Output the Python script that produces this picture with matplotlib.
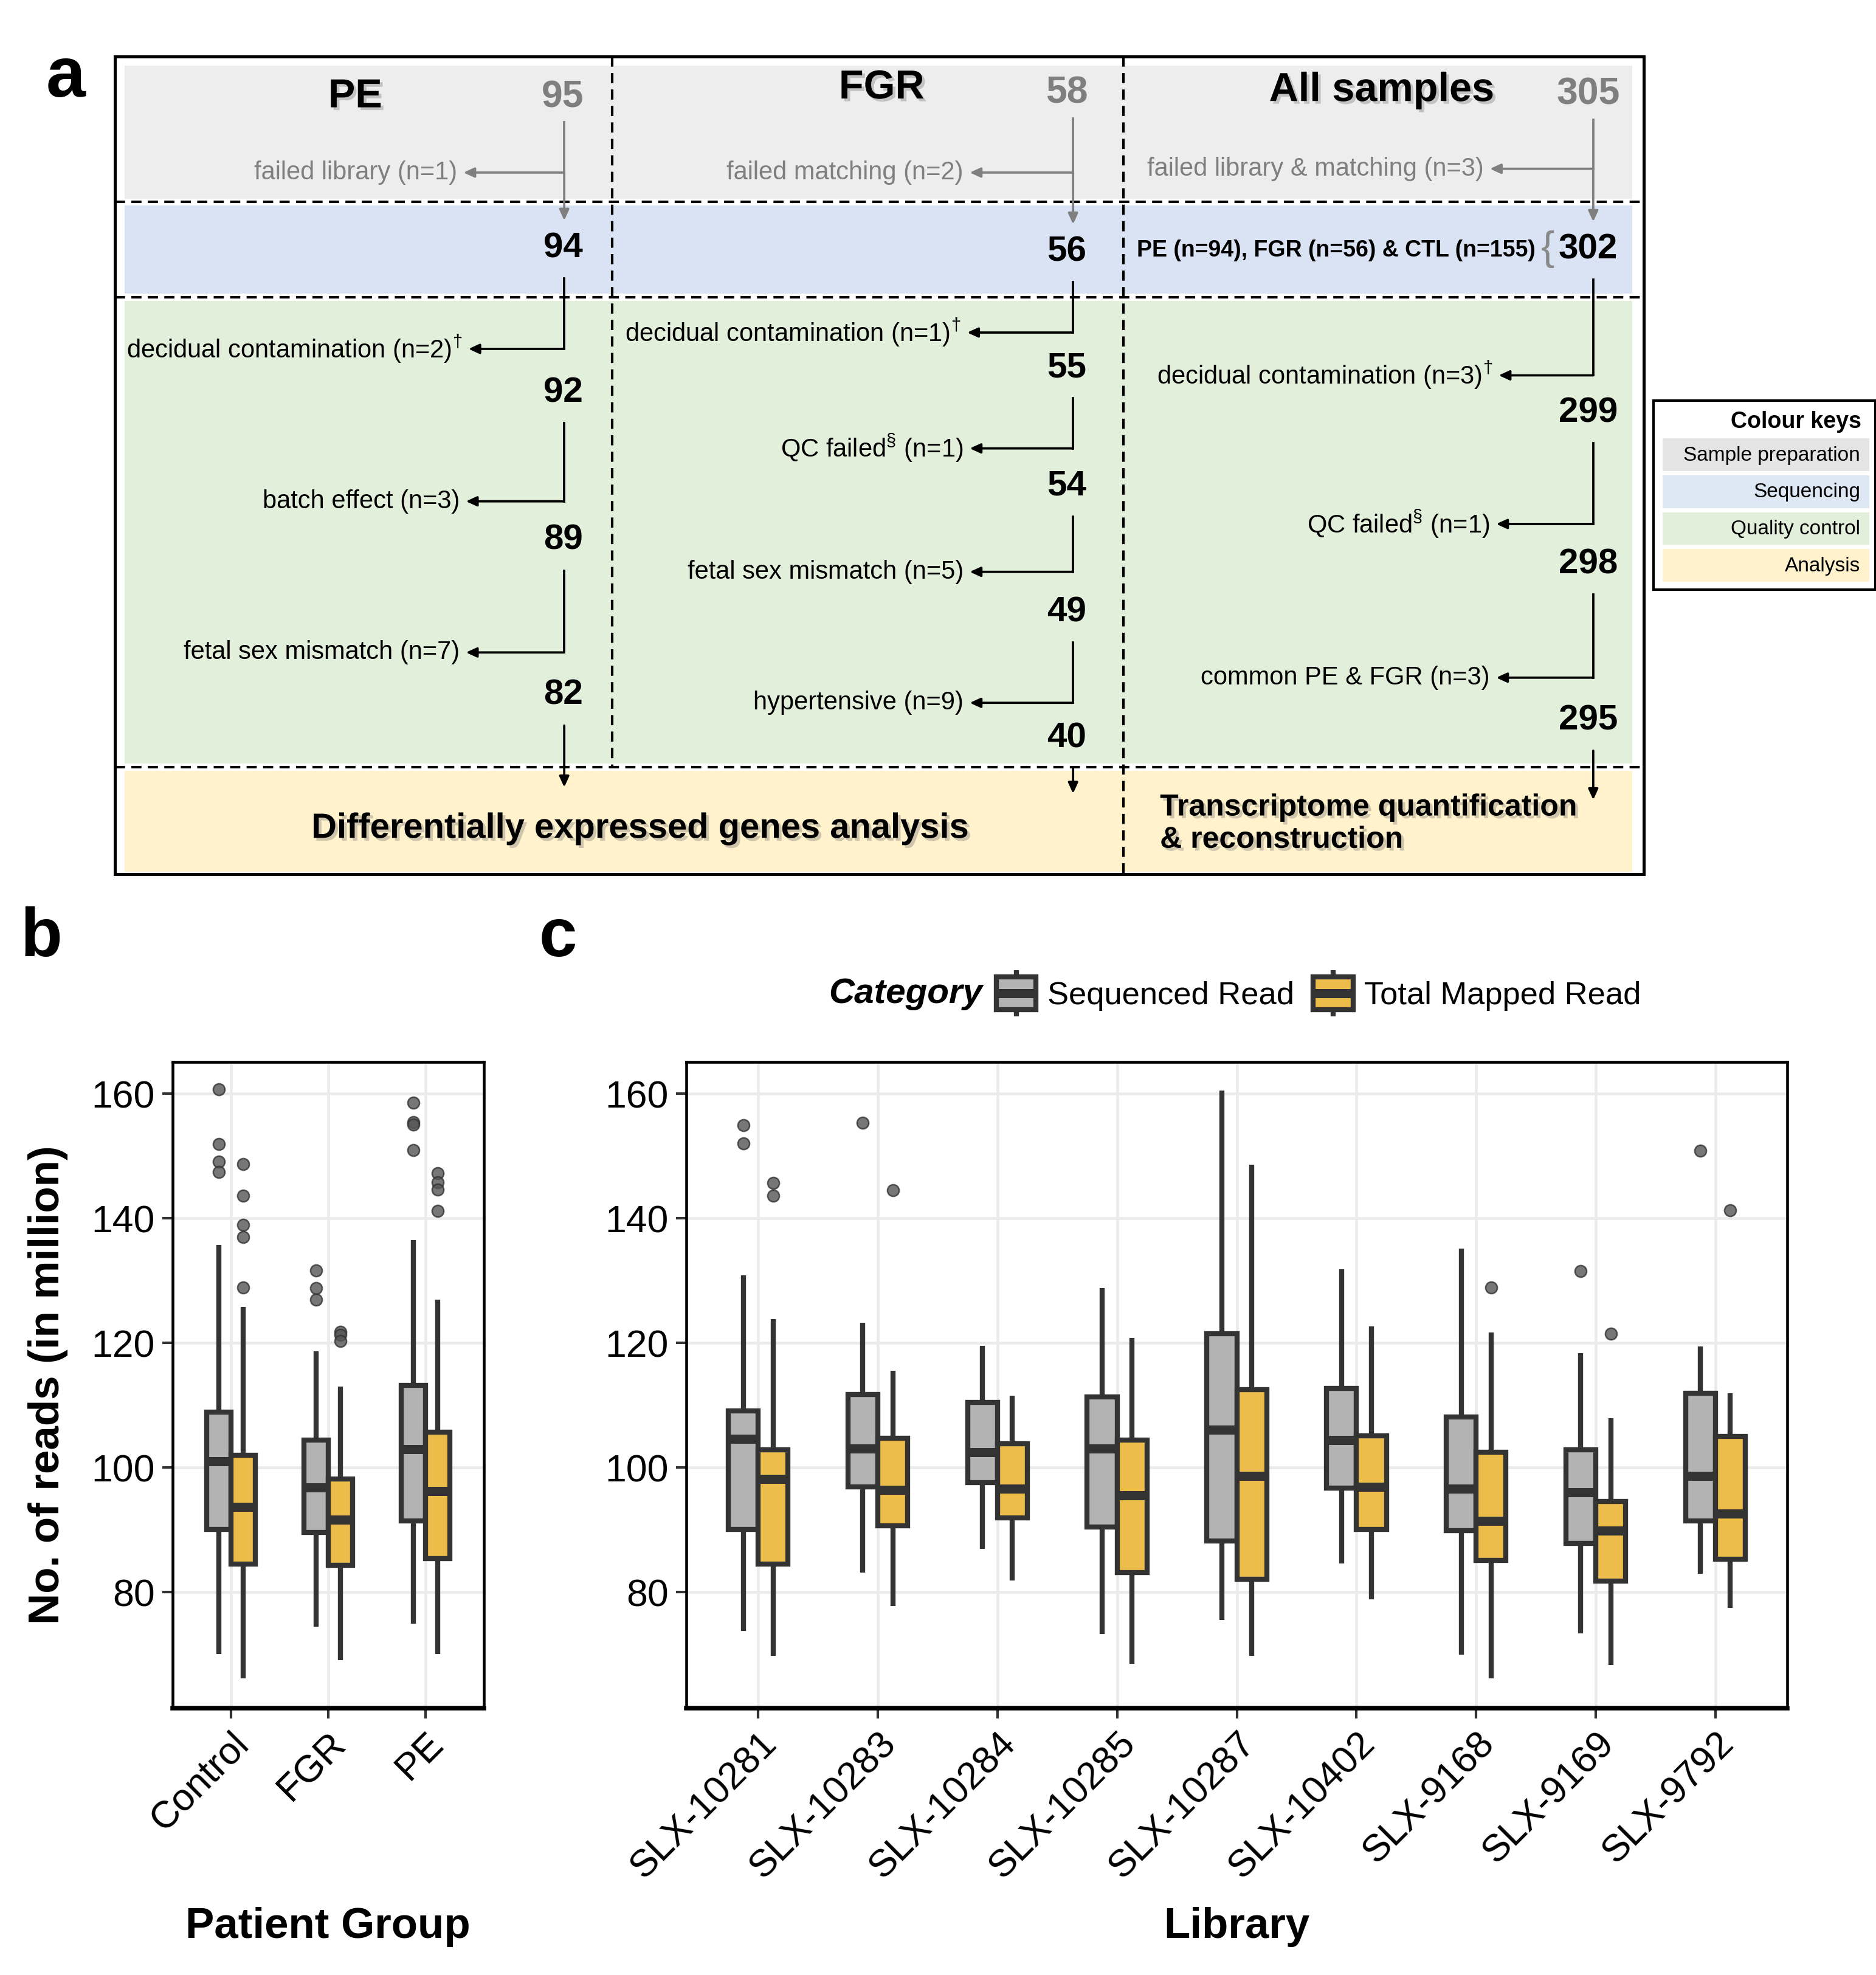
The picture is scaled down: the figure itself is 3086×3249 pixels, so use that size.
import numpy as np
import matplotlib
matplotlib.use("Agg")
import matplotlib.pyplot as plt
import matplotlib.patheffects as pe
from matplotlib.patches import Rectangle, Patch
from matplotlib.lines import Line2D
from matplotlib.legend_handler import HandlerBase

plt.rcParams['font.family'] = ['Liberation Sans', 'DejaVu Sans']
plt.rcParams['mathtext.fontset'] = 'custom'
plt.rcParams['mathtext.rm'] = 'Liberation Sans'

# ---- data: panel a (sample flow) ----
pe_counts = [95, 94, 92, 89, 82]
pe_steps = ["failed library (n=1)", r"decidual contamination (n=2)$^{\dagger}$",
            "batch effect (n=3)", "fetal sex mismatch (n=7)"]
fgr_counts = [58, 56, 55, 54, 49, 40]
fgr_steps = ["failed matching (n=2)", r"decidual contamination (n=1)$^{\dagger}$",
             r"QC failed$^{\S}$ (n=1)", "fetal sex mismatch (n=5)", "hypertensive (n=9)"]
all_counts = [305, 302, 299, 298, 295]
all_steps = ["failed library & matching (n=3)", r"decidual contamination (n=3)$^{\dagger}$",
             r"QC failed$^{\S}$ (n=1)", "common PE & FGR (n=3)"]
all_split = "PE (n=94), FGR (n=56) & CTL (n=155)"
stages = ["Sample preparation", "Sequencing", "Quality control", "Analysis"]

# ---- data: panel b (by patient group), values in million reads ----
groups = ["Control", "FGR", "PE"]
grp_seq_low = [70.1, 74.4, 74.9]
grp_seq_q1 = [90.1, 89.6, 91.4]
grp_seq_med = [101.0, 96.8, 102.9]
grp_seq_q3 = [108.9, 104.4, 113.2]
grp_seq_high = [135.7, 118.6, 136.5]
grp_seq_out = [[160.7, 151.9, 149.1, 147.4], [131.6, 128.8, 126.9], [158.5, 155.4, 155.0, 150.9]]
grp_map_low = [66.2, 69.1, 70.1]
grp_map_q1 = [84.5, 84.3, 85.4]
grp_map_med = [93.7, 91.6, 96.2]
grp_map_q3 = [102.0, 98.2, 105.7]
grp_map_high = [125.8, 113.0, 126.9]
grp_map_out = [[148.7, 143.6, 138.9, 137.0, 128.9], [121.8, 121.3, 120.3], [147.2, 145.8, 144.6, 141.2]]

# ---- data: panel c (by library) ----
libs = ["SLX-10281", "SLX-10283", "SLX-10284", "SLX-10285", "SLX-10287",
        "SLX-10402", "SLX-9168", "SLX-9169", "SLX-9792"]
lib_seq_low = [73.8, 83.1, 86.9, 73.3, 75.5, 84.6, 70.0, 73.4, 82.9]
lib_seq_q1 = [90.1, 96.9, 97.6, 90.4, 88.2, 96.7, 89.9, 87.8, 91.4]
lib_seq_med = [104.6, 103.0, 102.4, 103.0, 106.1, 104.4, 96.6, 96.0, 98.6]
lib_seq_q3 = [109.1, 111.7, 110.4, 111.3, 121.5, 112.7, 108.1, 102.8, 111.9]
lib_seq_high = [130.8, 123.2, 119.5, 128.8, 160.5, 131.8, 135.1, 118.3, 119.4]
lib_seq_out = [[154.9, 152.0], [155.3], [], [], [], [], [], [131.5], [150.8]]
lib_map_low = [69.8, 77.8, 81.9, 68.5, 69.8, 78.8, 66.2, 68.3, 77.5]
lib_map_q1 = [84.5, 90.6, 91.9, 83.1, 82.1, 90.1, 85.1, 81.8, 85.3]
lib_map_med = [98.2, 96.4, 96.6, 95.5, 98.6, 96.9, 91.4, 89.9, 92.6]
lib_map_q3 = [102.8, 104.7, 103.8, 104.4, 112.5, 105.1, 102.4, 94.5, 105.0]
lib_map_high = [123.8, 115.5, 111.5, 120.8, 148.6, 122.6, 121.7, 107.9, 111.9]
lib_map_out = [[145.7, 143.6], [144.5], [], [], [], [], [128.9], [121.5], [141.3]]

# ---- colours ----
DARK = "#333333"
GREY_BOX = "#B3B3B3"
GOLD_BOX = "#EDBD4C"
band_cols = ["#EDEDED", "#DAE3F3", "#E2EFDA", "#FFF2CC"]
key_cols = ["#E4E4E4", "#DDE8F4", "#E2EFDA", "#FFF2CC"]
FADED = "#7F7F7F"

W, H = 1490, 1568   # layout grid (reference pixels)
fig = plt.figure(figsize=(3087 / 300, 3249 / 300), dpi=300)

# overlay axes for panel a and free text, in layout pixels
ax = fig.add_axes([0, 0, 1, 1])
ax.set_xlim(0, W)
ax.set_ylim(H, 0)
ax.axis("off")

shadow = [pe.SimplePatchShadow(offset=(1.1, -1.1), shadow_rgbFace="0.45", alpha=0.35), pe.Normal()]

# background bands
band_y = [(52, 158), (163, 233), (239, 606), (612, 692)]
for (y0, y1), c in zip(band_y, band_cols):
    ax.add_patch(Rectangle((99, y0), 1197, y1 - y0, facecolor=c, edgecolor="none"))
ax.add_patch(Rectangle((91, 45), 1214, 649, facecolor="none", edgecolor="black", lw=1.2))
dash = (0, (4, 2.5))
for y in [160, 236, 609]:
    ax.plot([91, 1305], [y, y], color="black", lw=1.0, ls=dash)
ax.plot([486, 486], [45, 609], color="black", lw=1.0, ls=dash)
ax.plot([892, 892], [45, 694], color="black", lw=1.0, ls=dash)

ax.text(52, 62, "a", fontsize=28, fontweight="bold", ha="center", va="center")

# column headers
for name, x, y in [("PE", 282, 77), ("FGR", 700, 70), ("All samples", 1097, 72)]:
    ax.text(x, y, name, fontsize=16, fontweight="bold", ha="center", va="center", path_effects=shadow)


def flow(col_x, num_x, counts, count_y, steps, step_y, tip_x, end_y):
    ax.text(num_x, count_y[0], str(counts[0]), fontsize=15, fontweight="bold", color=FADED,
            ha="center", va="center")
    for k in range(1, len(counts)):
        ax.text(num_x, count_y[k], str(counts[k]), fontsize=14, fontweight="bold",
                ha="center", va="center")
    arr = dict(arrowstyle="-|>,head_length=0.35,head_width=0.16", lw=0.9, shrinkA=0, shrinkB=0)
    for k, (txt, sy, tx) in enumerate(zip(steps, step_y, tip_x)):
        c = FADED if k == 0 else "black"
        top = count_y[k] + (20 if k == 0 else 24)
        ax.plot([col_x, col_x], [top, sy], color=c, lw=0.9)
        ax.annotate("", xy=(tx, sy), xytext=(col_x, sy), arrowprops=dict(arr, color=c))
        ax.text(tx - 5, sy, txt, fontsize=10, color=c, ha="right", va="center")
        if k == 0:
            ax.annotate("", xy=(col_x, count_y[1] - 22), xytext=(col_x, sy),
                        arrowprops=dict(arr, color=c))
    ax.annotate("", xy=(col_x, end_y), xytext=(col_x, count_y[-1] + 24),
                arrowprops=dict(arr, color="black"))


flow(448, 447, pe_counts, [77, 197, 312, 429, 552], pe_steps, [137, 277, 398, 518],
     [368, 372, 370, 370], 625)
flow(852, 847, fgr_counts, [74, 200, 292, 386, 486, 586], fgr_steps, [137, 264, 356, 454, 558],
     [770, 768, 770, 770, 770], 630)
flow(1265, 1261, all_counts, [75, 198, 328, 448, 572], all_steps, [134, 298, 416, 538],
     [1183, 1190, 1188, 1188], 635)

ax.text(1219, 199, all_split, fontsize=9.0, fontweight="bold", ha="right", va="center")
ax.text(1229, 198, "{", fontsize=16, color="#8A8A8A", ha="center", va="center")

ax.text(508, 658, "Differentially expressed genes analysis", fontsize=13.9, fontweight="bold",
        ha="center", va="center", path_effects=shadow)
ax.text(921, 654, "Transcriptome quantification\n& reconstruction", fontsize=12, fontweight="bold",
        ha="left", va="center", linespacing=1.2, path_effects=shadow)

# colour keys box
ax.add_patch(Rectangle((1313, 318), 176, 150, facecolor="white", edgecolor="black", lw=1.0))
ax.text(1478, 335, "Colour keys", fontsize=9, fontweight="bold", ha="right", va="center")
for k, (lab, c) in enumerate(zip(stages, key_cols)):
    y0 = 348 + k * 29.3
    ax.add_patch(Rectangle((1320, y0), 164, 26, facecolor=c, edgecolor="none"))
    ax.text(1477, y0 + 13.5, lab, fontsize=8, ha="right", va="center")

ax.text(33, 745, "b", fontsize=27, fontweight="bold", ha="center", va="center")
ax.text(443, 745, "c", fontsize=27, fontweight="bold", ha="center", va="center")


# ---- boxplot panels ----
def boxes(axis, lo, q1, med, q3, hi, out, offset, colour):
    stats = [dict(whislo=a, q1=b, med=c, q3=d, whishi=e, fliers=f)
             for a, b, c, d, e, f in zip(lo, q1, med, q3, hi, out)]
    axis.bxp(stats, positions=np.arange(len(stats)) + offset, widths=0.25,
             patch_artist=True, showcaps=False, manage_ticks=False,
             boxprops=dict(facecolor=colour, edgecolor=DARK, linewidth=2.0, joinstyle="miter"),
             medianprops=dict(color=DARK, linewidth=3.6, solid_capstyle="butt"),
             whiskerprops=dict(color=DARK, linewidth=2.0, solid_capstyle="butt"),
             flierprops=dict(marker="o", markerfacecolor="#555555", markeredgecolor="#333333",
                             markersize=4.6, markeredgewidth=0.6, alpha=0.8))


def style(axis, labels, xlabel):
    n = len(labels)
    axis.set_xlim(-0.6, n - 0.4)
    axis.set_ylim(61.4, 165.1)
    axis.set_yticks([80, 100, 120, 140, 160])
    axis.set_xticks(np.arange(n))
    axis.set_xticklabels(labels, rotation=45, ha="right", va="top", rotation_mode="anchor")
    axis.grid(True, color="#EBEBEB", lw=1.1)
    axis.set_axisbelow(True)
    axis.tick_params(labelsize=15, length=4, width=1.0, color=DARK, pad=3)
    for s in axis.spines.values():
        s.set_linewidth(1.1)
    axis.spines["bottom"].set_linewidth(1.8)
    axis.set_xlabel(xlabel, fontsize=17, fontweight="bold")
    axis.xaxis.set_label_coords(0.5, -0.339)
    axis.xaxis.label.set_va("center")


ax_b = fig.add_axes([137 / W, 1 - 1356 / H, (384 - 137) / W, (1356 - 843) / H])
boxes(ax_b, grp_seq_low, grp_seq_q1, grp_seq_med, grp_seq_q3, grp_seq_high, grp_seq_out, -0.125, GREY_BOX)
boxes(ax_b, grp_map_low, grp_map_q1, grp_map_med, grp_map_q3, grp_map_high, grp_map_out, 0.125, GOLD_BOX)
style(ax_b, groups, "Patient Group")
ax_b.set_ylabel("No. of reads (in million)", fontsize=17, fontweight="bold")
ax_b.yaxis.set_label_coords(-0.40, 0.5)
ax_b.yaxis.label.set_va("center")

ax_c = fig.add_axes([545 / W, 1 - 1356 / H, (1419 - 545) / W, (1356 - 843) / H])
boxes(ax_c, lib_seq_low, lib_seq_q1, lib_seq_med, lib_seq_q3, lib_seq_high, lib_seq_out, -0.125, GREY_BOX)
boxes(ax_c, lib_map_low, lib_map_q1, lib_map_med, lib_map_q3, lib_map_high, lib_map_out, 0.125, GOLD_BOX)
style(ax_c, libs, "Library")


class BoxKey(HandlerBase):
    def create_artists(self, legend, orig, xd, yd, w, h, fontsize, trans):
        x0, y0 = -xd, -yd
        stub = h * 0.2
        arts = [Line2D([x0 + w / 2] * 2, [y0 - stub, y0 + h + stub], color=DARK, lw=2.0,
                       solid_capstyle="butt"),
                Rectangle((x0, y0), w, h, facecolor=orig.get_facecolor(), edgecolor=DARK, lw=2.0),
                Line2D([x0, x0 + w], [y0 + h / 2] * 2, color=DARK, lw=3.6, solid_capstyle="butt")]
        for a in arts:
            a.set_transform(trans)
        return arts


ax.text(658, 789, "Category", fontsize=14, fontweight="bold", fontstyle="italic",
        ha="left", va="center")
fig.legend(handles=[Patch(facecolor=GREY_BOX), Patch(facecolor=GOLD_BOX)],
           labels=["Sequenced Read", "Total Mapped Read"],
           handler_map={Patch: BoxKey()}, loc="center left",
           bbox_to_anchor=(791 / W, 1 - 789 / H), ncol=2, frameon=False, fontsize=12.6,
           handlelength=1.25, handleheight=1.2, handletextpad=0.35, columnspacing=0.6,
           borderpad=0, borderaxespad=0)

fig.savefig("out.png", dpi=300)
